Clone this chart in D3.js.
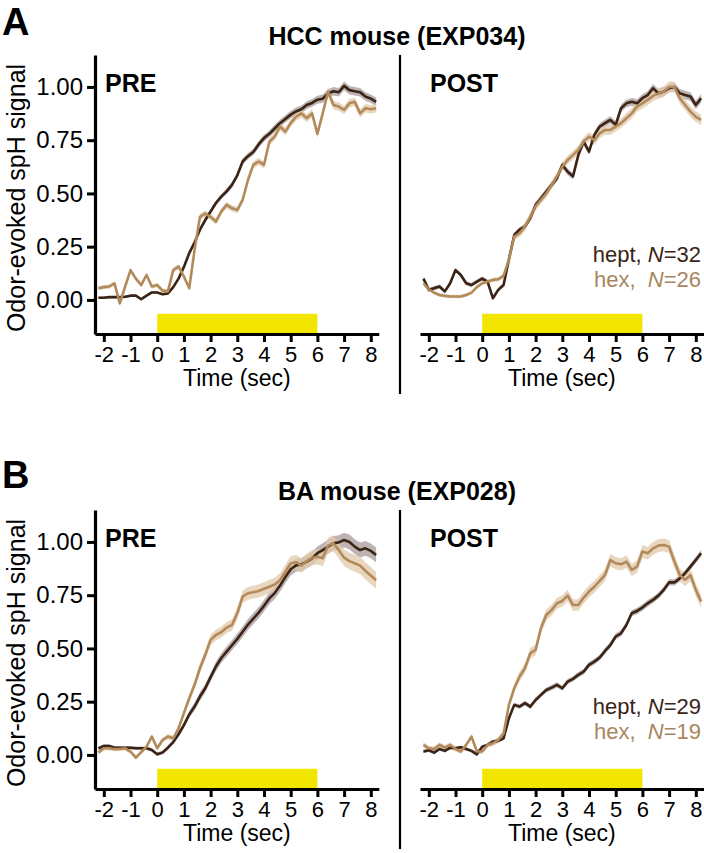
<!DOCTYPE html>
<html><head><meta charset="utf-8">
<script src="https://cdn.jsdelivr.net/npm/d3@7"></script>
<style>
html,body{margin:0;padding:0;background:#fff;}
text{font-family:"Liberation Sans",Arial,Helvetica,sans-serif;}
</style>
</head><body>
<svg id="chart" width="704" height="853"></svg>
<script>
// ---------------- DATA ----------------
const times = [-2.2,-2.0,-1.8,-1.6,-1.4,-1.2,-1.0,-0.8,-0.6,-0.4,
  -0.2,0,0.2,0.4,0.6,0.8,1.0,1.2,1.4,1.6,
  1.8,2.0,2.2,2.4,2.6,2.8,3.0,3.2,3.4,3.6,
  3.8,4.0,4.2,4.4,4.6,4.8,5.0,5.2,5.4,5.6,
  5.8,6.0,6.2,6.4,6.6,6.8,7.0,7.2,7.4,7.6,
  7.8,8.0,8.2];

const xTicks = [-2,-1,0,1,2,3,4,5,6,7,8];
const yTicks = [0,0.25,0.5,0.75,1.0];
const stimulus = [0, 6];

// Panel A, PRE
const aPreHept = [0.01,0.01,0.013,0.013,0.013,0.015,0.02,0.02,0.003,0.02,
  0.035,0.035,0.027,0.03,0.06,0.10,0.155,0.22,0.27,0.33,
  0.375,0.415,0.455,0.485,0.51,0.54,0.585,0.65,0.675,0.695,
  0.73,0.76,0.78,0.805,0.83,0.85,0.87,0.885,0.895,0.915,
  0.925,0.94,0.945,0.97,0.98,0.975,1.005,0.985,0.98,0.975,
  0.955,0.945,0.93];
const aPreHeptSem = [0.006,0.006,0.006,0.006,0.006,0.006,0.006,0.006,0.006,0.006,
  0.006,0.006,0.006,0.006,0.008,0.008,0.01,0.01,0.01,0.012,
  0.012,0.012,0.012,0.012,0.014,0.014,0.014,0.015,0.015,0.015,
  0.016,0.016,0.016,0.017,0.017,0.017,0.018,0.018,0.018,0.018,
  0.018,0.019,0.019,0.019,0.02,0.02,0.02,0.02,0.02,0.02,
  0.02,0.02,0.02];
const aPreHex = [0.055,0.06,0.063,0.078,-0.016,0.063,0.14,0.10,0.07,0.117,
  0.063,0.07,0.044,0.04,0.14,0.156,0.11,0.055,0.235,0.39,
  0.405,0.39,0.368,0.415,0.446,0.43,0.422,0.47,0.563,0.634,
  0.65,0.634,0.743,0.767,0.814,0.79,0.83,0.86,0.876,0.853,
  0.876,0.78,0.876,0.978,0.915,0.908,0.892,0.923,0.93,0.876,
  0.9,0.895,0.9];
const aPreHexSem = [0.01,0.01,0.01,0.01,0.01,0.01,0.01,0.01,0.01,0.01,
  0.01,0.01,0.01,0.01,0.012,0.012,0.012,0.012,0.014,0.015,
  0.015,0.015,0.015,0.015,0.015,0.015,0.015,0.016,0.016,0.016,
  0.017,0.017,0.017,0.018,0.018,0.018,0.018,0.019,0.019,0.019,
  0.02,0.02,0.02,0.02,0.02,0.02,0.02,0.02,0.02,0.02,
  0.02,0.02,0.02];

// Panel A, POST
const aPostHept = [0.10,0.047,0.055,0.063,0.04,0.078,0.14,0.117,0.078,0.07,
  0.086,0.10,0.086,0.008,0.047,0.07,0.19,0.305,0.33,0.344,
  0.383,0.446,0.477,0.509,0.54,0.571,0.634,0.602,0.58,0.68,
  0.743,0.696,0.775,0.814,0.83,0.845,0.822,0.9,0.923,0.93,
  0.923,0.947,0.962,0.994,0.97,0.978,0.994,1.0,0.97,0.962,
  0.955,0.915,0.947];
const aPostHeptSem = [0.01,0.01,0.01,0.01,0.01,0.01,0.01,0.01,0.01,0.01,
  0.01,0.01,0.01,0.01,0.01,0.01,0.012,0.012,0.012,0.013,
  0.013,0.013,0.014,0.014,0.014,0.015,0.015,0.015,0.015,0.015,
  0.016,0.016,0.016,0.017,0.017,0.017,0.018,0.018,0.018,0.018,
  0.019,0.019,0.019,0.02,0.02,0.02,0.02,0.02,0.02,0.02,
  0.02,0.02,0.02];
const aPostHex = [0.078,0.05,0.034,0.023,0.019,0.016,0.016,0.016,0.023,0.034,
  0.06,0.078,0.086,0.094,0.097,0.113,0.19,0.297,0.313,0.344,
  0.39,0.44,0.47,0.50,0.54,0.58,0.626,0.657,0.68,0.704,
  0.743,0.767,0.75,0.782,0.798,0.798,0.814,0.83,0.853,0.876,
  0.908,0.923,0.939,0.958,0.97,0.978,1.0,1.0,0.947,0.915,
  0.884,0.86,0.845];
const aPostHexSem = [0.008,0.008,0.008,0.008,0.008,0.008,0.008,0.008,0.008,0.008,
  0.008,0.008,0.008,0.01,0.01,0.012,0.014,0.016,0.018,0.02,
  0.02,0.02,0.02,0.02,0.02,0.02,0.02,0.02,0.021,0.021,
  0.021,0.022,0.022,0.022,0.022,0.023,0.023,0.023,0.023,0.024,
  0.024,0.024,0.024,0.025,0.025,0.025,0.025,0.025,0.025,0.025,
  0.025,0.025,0.025];

// Panel B, PRE
const bPreHept = [0.031,0.042,0.042,0.034,0.034,0.034,0.034,0.031,0.031,0.031,
  0.023,0.003,0.011,0.034,0.06,0.097,0.14,0.19,0.227,0.274,
  0.313,0.365,0.415,0.455,0.485,0.515,0.545,0.578,0.612,0.64,
  0.668,0.7,0.735,0.76,0.795,0.835,0.872,0.89,0.895,0.908,
  0.923,0.947,0.962,0.978,0.994,0.998,1.009,1.0,0.978,0.962,
  0.97,0.958,0.939];
const bPreHeptSem = [0.008,0.008,0.008,0.008,0.008,0.008,0.008,0.008,0.008,0.008,
  0.008,0.008,0.008,0.01,0.01,0.012,0.014,0.016,0.018,0.02,
  0.02,0.02,0.022,0.022,0.024,0.024,0.025,0.025,0.026,0.026,
  0.027,0.027,0.028,0.028,0.029,0.029,0.03,0.03,0.03,0.031,
  0.031,0.032,0.032,0.033,0.033,0.034,0.034,0.035,0.035,0.035,
  0.035,0.035,0.035];
const bPreHex = [0.011,0.031,0.031,0.027,0.028,0.031,0.016,-0.013,0.013,0.039,
  0.086,0.031,0.07,0.086,0.078,0.125,0.196,0.266,0.329,0.407,
  0.47,0.54,0.563,0.576,0.598,0.61,0.665,0.743,0.759,0.764,
  0.77,0.78,0.79,0.80,0.82,0.86,0.9,0.905,0.889,0.91,
  0.926,0.93,0.923,0.983,0.994,0.962,0.926,0.91,0.9,0.889,
  0.864,0.842,0.82];
const bPreHexSem = [0.01,0.01,0.01,0.01,0.01,0.01,0.01,0.01,0.01,0.01,
  0.01,0.01,0.01,0.012,0.012,0.014,0.016,0.018,0.02,0.022,
  0.024,0.025,0.025,0.026,0.026,0.027,0.028,0.029,0.03,0.03,
  0.031,0.031,0.032,0.032,0.033,0.033,0.034,0.034,0.035,0.035,
  0.036,0.036,0.037,0.037,0.038,0.038,0.039,0.039,0.04,0.04,
  0.04,0.04,0.04];

// Panel B, POST
const bPostHept = [0.016,0.022,0.011,0.028,0.019,0.034,0.031,0.036,0.028,0.019,
  0.003,0.039,0.047,0.063,0.066,0.078,0.172,0.235,0.227,0.243,
  0.227,0.258,0.282,0.305,0.316,0.329,0.313,0.344,0.357,0.376,
  0.391,0.423,0.438,0.457,0.488,0.516,0.556,0.571,0.61,0.665,
  0.676,0.692,0.712,0.728,0.748,0.775,0.81,0.81,0.829,0.853,
  0.884,0.915,0.947];
const bPostHeptSem = [0.008,0.008,0.008,0.008,0.008,0.008,0.008,0.008,0.008,0.008,
  0.008,0.008,0.008,0.008,0.008,0.009,0.01,0.01,0.01,0.011,
  0.011,0.011,0.011,0.012,0.012,0.012,0.012,0.012,0.012,0.013,
  0.013,0.013,0.013,0.013,0.014,0.014,0.014,0.014,0.014,0.014,
  0.015,0.015,0.015,0.015,0.015,0.015,0.015,0.015,0.015,0.015,
  0.015,0.015,0.015];
const bPostHex = [0.047,0.031,0.028,0.047,0.034,0.047,0.028,0.016,0.047,0.086,
  0.016,0.016,0.047,0.055,0.07,0.10,0.235,0.313,0.368,0.407,
  0.477,0.493,0.595,0.657,0.68,0.712,0.723,0.748,0.704,0.704,
  0.739,0.767,0.79,0.817,0.845,0.915,0.9,0.895,0.908,0.869,
  0.884,0.955,0.947,0.97,0.983,0.986,0.978,0.908,0.845,0.822,
  0.845,0.775,0.72];
const bPostHexSem = [0.012,0.012,0.012,0.012,0.012,0.012,0.012,0.012,0.012,0.012,
  0.012,0.012,0.012,0.014,0.015,0.016,0.018,0.02,0.022,0.024,
  0.025,0.025,0.025,0.026,0.026,0.026,0.027,0.027,0.027,0.027,
  0.028,0.028,0.028,0.028,0.028,0.029,0.029,0.029,0.029,0.029,
  0.03,0.03,0.03,0.03,0.03,0.03,0.03,0.03,0.03,0.03,
  0.03,0.03,0.03];

const panelLetters = ["A", "B"];
const panelTitles = ["HCC mouse (EXP034)", "BA mouse (EXP028)"];
const conditionLabels = ["PRE", "POST"];
const legendN = [[32, 26], [29, 19]];
const seriesNames = ["hept", "hex"];

// ---------------- STYLE ----------------
const COL_HEPT = "#3a2416";
const COL_HEX = "#b38a5c";
const BAND_HEPT = "#a89a9a";
const BAND_HEX = "#e0c8a8";
const YELLOW = "#f2e600";
const FONT = "'Liberation Sans', Arial, Helvetica, sans-serif";

const svg = d3.select("#chart");

const panels = [
  {row:0, col:0, hept:aPreHept, heptSem:aPreHeptSem, hex:aPreHex, hexSem:aPreHexSem},
  {row:0, col:1, hept:aPostHept, heptSem:aPostHeptSem, hex:aPostHex, hexSem:aPostHexSem},
  {row:1, col:0, hept:bPreHept, heptSem:bPreHeptSem, hex:bPreHex, hexSem:bPreHexSem},
  {row:1, col:1, hept:bPostHept, heptSem:bPostHeptSem, hex:bPostHex, hexSem:bPostHexSem}
];

const ROW_DY = 455;
const COL_DX = 325;
const yDomain = [-0.16, 1.15];
const xDomain = [-2.33, 8.3];

// row-level decorations
panelLetters.forEach((L, r) => {
  const g = svg.append("g").attr("transform", `translate(0,${r*ROW_DY})`);
  g.append("text").attr("x", 2).attr("y", r === 1 ? 33 : 35)
    .attr("font-size", 38).attr("font-weight", "bold").attr("font-family", FONT)
    .text(L);
  g.append("text").attr("x", 397).attr("y", 45).attr("text-anchor", "middle")
    .attr("font-size", 25).attr("font-weight", "bold").attr("font-family", FONT)
    .text(panelTitles[r]);
  // divider
  g.append("line").attr("x1", 400).attr("x2", 400).attr("y1", 55).attr("y2", 394)
    .attr("stroke", "#000").attr("stroke-width", 2.2);
  // y label
  g.append("text").attr("transform", "translate(25,198) rotate(-90)")
    .attr("text-anchor", "middle").attr("font-size", 25).attr("font-family", FONT)
    .text("Odor-evoked spH signal");
});

panels.forEach(p => {
  const g = svg.append("g").attr("transform", `translate(${p.col*COL_DX},${p.row*ROW_DY})`);
  const x = d3.scaleLinear().domain(xDomain).range([95, 378.8]);
  const y = d3.scaleLinear().domain(yDomain).range([334, 55]);

  // stimulus bar
  g.append("rect")
    .attr("x", x(stimulus[0])).attr("width", x(stimulus[1]) - x(stimulus[0]))
    .attr("y", y(-0.065)).attr("height", y(yDomain[0]) - y(-0.065))
    .attr("fill", YELLOW);

  const rows = times.map((t, i) => ({t, hept:p.hept[i], heptSem:p.heptSem[i], hex:p.hex[i], hexSem:p.hexSem[i]}));

  const area = (k, s) => d3.area().x(d => x(d.t)).y0(d => y(d[k] - d[s])).y1(d => y(d[k] + d[s]));
  const line = k => d3.line().x(d => x(d.t)).y(d => y(d[k]));

  g.append("path").datum(rows).attr("d", area("hept", "heptSem")).attr("fill", BAND_HEPT).attr("opacity", 0.75);
  g.append("path").datum(rows).attr("d", area("hex", "hexSem")).attr("fill", BAND_HEX).attr("opacity", 0.75);
  g.append("path").datum(rows).attr("d", line("hept")).attr("fill", "none")
    .attr("stroke", COL_HEPT).attr("stroke-width", 2.6).attr("stroke-linejoin", "round");
  g.append("path").datum(rows).attr("d", line("hex")).attr("fill", "none")
    .attr("stroke", COL_HEX).attr("stroke-width", 2.6).attr("stroke-linejoin", "round");

  // x axis
  const xa = g.append("g").attr("transform", `translate(0,${y(yDomain[0])})`)
    .call(d3.axisBottom(x).tickValues(xTicks).tickFormat(d => String(d)).tickSize(8).tickSizeOuter(0).tickPadding(4));
  xa.select(".domain").attr("stroke-width", 3.2);
  xa.selectAll(".tick line").attr("stroke-width", 3);
  xa.selectAll("text").attr("font-size", 22).attr("font-family", FONT).attr("fill", "#000");

  g.append("text").attr("x", (x(xDomain[0]) + x(xDomain[1]))/2).attr("y", 386)
    .attr("text-anchor", "middle").attr("font-size", 23).attr("font-family", FONT)
    .text("Time (sec)");

  // y axis (PRE only)
  if (p.col === 0) {
    const ya = g.append("g").attr("transform", `translate(${x(xDomain[0])},0)`)
      .call(d3.axisLeft(y).tickValues(yTicks).tickFormat(d3.format(".2f")).tickSize(8).tickSizeOuter(0).tickPadding(4));
    ya.select(".domain").attr("stroke-width", 3.2);
    ya.selectAll(".tick line").attr("stroke-width", 3);
    ya.selectAll("text").attr("font-size", 24).attr("font-family", FONT).attr("fill", "#000");
  }

  g.append("text").attr("x", 105).attr("y", 92)
    .attr("font-size", 25).attr("font-weight", "bold").attr("font-family", FONT)
    .text(conditionLabels[p.col]);

  if (p.col === 1) {
    const ns = legendN[p.row];
    const ly = p.row === 0 ? 262 : 259;
    [0, 1].forEach(i => {
      const t = g.append("text").attr("x", 376).attr("y", ly + i*25)
        .attr("text-anchor", "end").attr("font-size", 22).attr("font-family", FONT)
        .attr("fill", i === 0 ? "#3a2416" : "#a8865e").style("white-space", "pre");
      t.append("tspan").text(seriesNames[i] + (i === 0 ? ", " : ",  "));
      t.append("tspan").attr("font-style", "italic").text("N");
      t.append("tspan").text("=" + ns[i]);
    });
  }
});
</script>
</body></html>
